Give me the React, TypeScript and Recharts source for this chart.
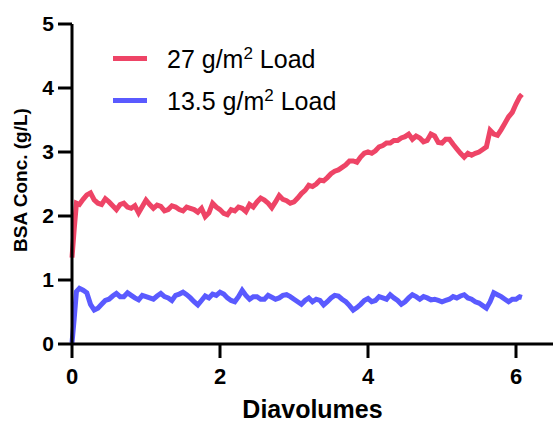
import { Label, Legend, Line, LineChart, XAxis, YAxis } from "recharts"

document.body.style.margin = "0"

const diavolumes = [
  0, 0.03, 0.06,
  0.1, 0.15, 0.2, 0.25, 0.3, 0.35, 0.4, 0.45, 0.5, 0.55,
  0.6, 0.65, 0.7, 0.75, 0.8, 0.85, 0.9, 0.95, 1.0, 1.05,
  1.1, 1.15, 1.2, 1.25, 1.3, 1.35, 1.4, 1.45, 1.5, 1.55,
  1.6, 1.65, 1.7, 1.75, 1.8, 1.85, 1.9, 1.95, 2.0, 2.05,
  2.1, 2.15, 2.2, 2.25, 2.3, 2.35, 2.4, 2.45, 2.5, 2.55,
  2.6, 2.65, 2.7, 2.75, 2.8, 2.85, 2.9, 2.95, 3.0, 3.05,
  3.1, 3.15, 3.2, 3.25, 3.3, 3.35, 3.4, 3.45, 3.5, 3.55,
  3.6, 3.65, 3.7, 3.75, 3.8, 3.85, 3.9, 3.95, 4.0, 4.05,
  4.1, 4.15, 4.2, 4.25, 4.3, 4.35, 4.4, 4.45, 4.5, 4.55,
  4.6, 4.65, 4.7, 4.75, 4.8, 4.85, 4.9, 4.95, 5.0, 5.05,
  5.1, 5.15, 5.2, 5.25, 5.3, 5.35, 5.4, 5.45, 5.5, 5.55,
  5.6, 5.65, 5.7, 5.75, 5.8, 5.85, 5.9, 5.95, 6.0, 6.05,
  6.08,
]

const load27 = [
  1.35, 1.8, 2.2,
  2.18, 2.26, 2.33, 2.36, 2.25, 2.2, 2.18, 2.27, 2.22, 2.16,
  2.1, 2.18, 2.2, 2.14, 2.12, 2.16, 2.05, 2.15, 2.25, 2.18,
  2.12, 2.17, 2.15, 2.08, 2.1, 2.16, 2.14, 2.1, 2.08, 2.14,
  2.12, 2.1, 2.06, 2.12, 1.99, 2.05, 2.2, 2.14, 2.1, 2.04,
  2.02, 2.1, 2.08, 2.14, 2.12, 2.07, 2.18, 2.14, 2.22, 2.28,
  2.25, 2.2, 2.13, 2.22, 2.32, 2.26, 2.24, 2.2, 2.22, 2.28,
  2.35, 2.4, 2.48, 2.46, 2.5, 2.56, 2.55, 2.6, 2.66, 2.7,
  2.72, 2.76, 2.8, 2.86, 2.86, 2.84, 2.92, 2.98, 3.0, 2.98,
  3.02, 3.08, 3.1, 3.14, 3.14, 3.18, 3.18, 3.22, 3.24, 3.28,
  3.2, 3.25, 3.22, 3.16, 3.18, 3.28, 3.25, 3.15, 3.14, 3.2,
  3.2, 3.12, 3.05, 2.98, 2.92, 2.98, 2.95, 2.98, 3.0, 3.04,
  3.08, 3.34, 3.28, 3.26, 3.35, 3.45, 3.55, 3.62, 3.75, 3.86,
  3.9,
]

const load13 = [
  0.02, 0.4, 0.82,
  0.87, 0.84, 0.8, 0.62, 0.53, 0.56, 0.62, 0.68, 0.7, 0.75,
  0.79, 0.74, 0.74, 0.8, 0.76, 0.72, 0.69, 0.76, 0.74, 0.72,
  0.7, 0.75, 0.79, 0.74, 0.72, 0.68, 0.76, 0.78, 0.81, 0.77,
  0.72, 0.66, 0.61, 0.68, 0.75, 0.72, 0.78, 0.76, 0.81, 0.78,
  0.72, 0.68, 0.66, 0.74, 0.84, 0.76, 0.7, 0.74, 0.74, 0.7,
  0.7, 0.76, 0.73, 0.7, 0.72, 0.76, 0.77, 0.74, 0.7, 0.66,
  0.62, 0.68, 0.72, 0.66, 0.7, 0.68, 0.61, 0.66, 0.72, 0.76,
  0.75, 0.7, 0.66, 0.6, 0.53, 0.57, 0.62, 0.68, 0.71, 0.66,
  0.68, 0.74, 0.72, 0.7, 0.77, 0.72, 0.68, 0.62, 0.66, 0.72,
  0.77, 0.74, 0.7, 0.74, 0.72, 0.69, 0.7, 0.68, 0.66, 0.68,
  0.7, 0.74, 0.72, 0.75, 0.77, 0.72, 0.7, 0.66, 0.64, 0.6,
  0.56, 0.66, 0.8, 0.77, 0.74, 0.7, 0.66, 0.7, 0.7, 0.74,
  0.73,
]

const xTicks = [0, 2, 4, 6]
const yTicks = [0, 1, 2, 3, 4, 5]
const seriesLabels: Record<string, string> = { load27: "27", load13: "13.5" }

const RED = "#EE4466"
const BLUE = "#5A5AFF"
const FONT = "'Liberation Sans', Arial, sans-serif"

const data = diavolumes.map((x, i) => ({ x, load27: load27[i], load13: load13[i] }))

function LegendBox({ payload }: any) {
  const items = ["load27", "load13"]
    .map((k) => (payload || []).find((p: any) => p.dataKey === k))
    .filter(Boolean)
  return (
    <svg width={320} height={100} style={{ fontFamily: FONT }}>
      {items.map((p: any, i: number) => (
        <g key={p.dataKey} transform={`translate(0, ${i * 42})`}>
          <line x1={13} x2={47} y1={28.5} y2={28.5} stroke={p.color} strokeWidth={5} />
          <text x={67} y={38} fontSize={25} fill="#000">
            {seriesLabels[p.dataKey]} g/m
            <tspan dy={-9} fontSize={17}>2</tspan>
            <tspan dy={9}> Load</tspan>
          </text>
        </g>
      ))}
    </svg>
  )
}

export default function App() {
  return (
    <LineChart width={553} height={424} data={data} margin={{ top: 24, right: 0, bottom: 0, left: 0 }} style={{ fontFamily: FONT }}>
      <XAxis
        dataKey="x"
        type="number"
        domain={[0, 6.5]}
        ticks={xTicks}
        height={80}
        tickSize={14}
        tickMargin={10}
        axisLine={{ stroke: "#000", strokeWidth: 3 }}
        tickLine={{ stroke: "#000", strokeWidth: 3 }}
        tick={{ fill: "#000", fontSize: 22, fontWeight: "bold" }}
      >
        <Label
          content={({ viewBox }: any) => (
            <text x={viewBox.x + viewBox.width / 2} y={viewBox.y + 74} textAnchor="middle" fontSize={25} fontWeight="bold" fill="#000">
              Diavolumes
            </text>
          )}
        />
      </XAxis>
      <YAxis
        type="number"
        domain={[0, 5]}
        ticks={yTicks}
        width={72}
        tickSize={14}
        tickMargin={4}
        axisLine={{ stroke: "#000", strokeWidth: 3 }}
        tickLine={{ stroke: "#000", strokeWidth: 3 }}
        tick={{ fill: "#000", fontSize: 21, fontWeight: "bold" }}
      >
        <Label
          content={({ viewBox }: any) => {
            const cx = viewBox.x + 27
            const cy = viewBox.y + viewBox.height / 2 - 4
            return (
              <text x={cx} y={cy} transform={`rotate(-90 ${cx} ${cy})`} textAnchor="middle" fontSize={19} fontWeight="bold" fill="#000">
                BSA Conc. (g/L)
              </text>
            )
          }}
        />
      </YAxis>
      <Legend
        layout="vertical"
        align="center"
        verticalAlign="middle"
        content={LegendBox}
        wrapperStyle={{ position: "absolute", left: 100, top: 30, width: 320, height: 100 }}
      />
      <Line type="linear" dataKey="load27" stroke={RED} strokeWidth={5} dot={false} isAnimationActive={false} />
      <Line type="linear" dataKey="load13" stroke={BLUE} strokeWidth={5} dot={false} isAnimationActive={false} />
    </LineChart>
  )
}
